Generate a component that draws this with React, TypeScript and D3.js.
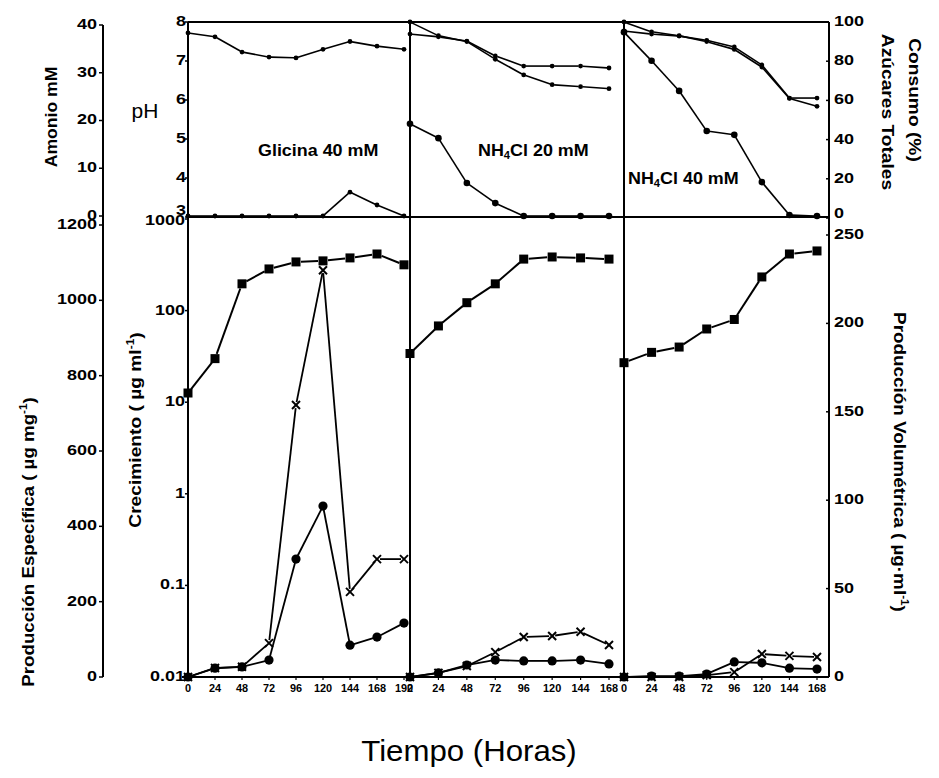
import React from "react";
import * as d3 from "d3";

// ---------- data ----------
const hoursGly = [0, 24, 48, 72, 96, 120, 144, 168, 192];
const hoursN = [0, 24, 48, 72, 96, 120, 144, 168];

// top panel: pH, ammonium (mM), total sugars (%)
const phGly = [7.72, 7.62, 7.23, 7.1, 7.08, 7.3, 7.5, 7.38, 7.3];
const ammGly = [0, 0, 0, 0, 0, 0, 5.0, 2.3, 0];
const phN20 = [7.69, 7.62, 7.51, 7.13, 6.87, 6.87, 6.87, 6.82];
const sugN20 = [100, 93, 90, 81, 73, 68, 67, 66];
const ammN20 = [19.3, 16.3, 6.9, 2.7, 0, 0, 0, 0];
const phN40 = [7.77, 7.69, 7.64, 7.53, 7.36, 6.9, 6.05, 6.05];
const sugN40 = [100, 95, 93, 90, 86, 77, 61, 57];
const ammN40 = [38.5, 32.5, 26.2, 17.8, 17, 7.1, 0.2, 0];

// bottom panel: growth (log), specific production, volumetric production
const growthGly = [12.6, 29.9, 196, 285, 340, 349, 376, 415, 316];
const growthN20 = [34, 68, 122, 196, 365, 385, 376, 365];
const growthN40 = [27, 35, 40, 63, 80, 233, 415, 448];
const specGly = [0, 24, 27, 90, 722, 1080, 226, 313, 313];
const specN20 = [0, 11, 29, 66, 106, 109, 120, 85];
const specN40 = [0, 0, 0, 5, 13, 61, 56, 53];
const volGly = [0, 5, 5.7, 9.6, 66.7, 96.7, 18, 22.6, 30.5];
const volN20 = [0, 2.3, 6.8, 9.6, 9.1, 9.1, 9.6, 7.4];
const volN40 = [0, 0.5, 0.5, 1.7, 8.5, 8, 5, 4.5];

// tick values
const amoniumTicks = [0, 10, 20, 30, 40];
const phTicks = [3, 4, 5, 6, 7, 8];
const sugarTicks = [0, 20, 40, 60, 80, 100];
const specTicks = [0, 200, 400, 600, 800, 1000, 1200];
const growthTicks = [0.01, 0.1, 1, 10, 100, 1000];
const growthTickLabels = ["0.01", "0.1", "1", "10", "100", "1000"];
const volTicks = [0, 50, 100, 150, 200, 250];

const panelLabels = ["Glicina 40 mM", "NH4Cl 20 mM", "NH4Cl 40 mM"];

// ---------- layout ----------
const F = '"Liberation Sans", Arial, Helvetica, sans-serif';
const TOP = 22, MID = 217, BOT = 677;
const XL = 103, XA = 188, XB = 410, XC = 624, XR = 829;

const x1 = d3.scaleLinear().domain([0, 192]).range([XA, 404]);
const x2 = d3.scaleLinear().domain([0, 168]).range([XB, 609]);
const x3 = d3.scaleLinear().domain([0, 168]).range([XC, 817]);

const yPh = d3.scaleLinear().domain([3, 8]).range([MID, TOP]);
const yAmm = d3.scaleLinear().domain([0, 40]).range([216, 25]);
const ySug = d3.scaleLinear().domain([0, 100]).range([MID + 1, TOP]);
const yGrowth = d3.scaleLog().domain([0.01, 1000]).range([BOT, 219]);
const ySpec = d3.scaleLinear().domain([0, 1200]).range([BOT, 225]);
const yVol = d3.scaleLinear().domain([0, 250]).range([BOT, 235]);

type Mk = "square" | "circle" | "x" | "dot" | "bigdot";

function Marker({ t, x, y }: { t: Mk; x: number; y: number }) {
  if (t === "square") return <rect x={x - 4.5} y={y - 4.5} width={9} height={9} fill="#000" />;
  if (t === "circle") return <circle cx={x} cy={y} r={4.6} fill="#000" />;
  if (t === "bigdot") return <circle cx={x} cy={y} r={3.3} fill="#000" />;
  if (t === "dot") return <circle cx={x} cy={y} r={2.4} fill="#000" />;
  return (
    <g stroke="#000" strokeWidth={2}>
      <line x1={x - 4} y1={y - 4} x2={x + 4} y2={y + 4} />
      <line x1={x - 4} y1={y + 4} x2={x + 4} y2={y - 4} />
    </g>
  );
}

function Series({
  hours, vals, xs, ys, mk, gap = 3, sw = 1.8,
}: {
  hours: number[]; vals: number[]; xs: any; ys: any; mk: Mk; gap?: number; sw?: number;
}) {
  const pts = hours.map((h, i) => [xs(h), ys(vals[i])]);
  const segs = [];
  for (let i = 0; i < pts.length - 1; i++) {
    const [ax, ay] = pts[i];
    const [bx, by] = pts[i + 1];
    const len = Math.hypot(bx - ax, by - ay);
    if (len < 2 * gap + 1) continue;
    const ux = (bx - ax) / len, uy = (by - ay) / len;
    segs.push(
      <line key={i} x1={ax + ux * gap} y1={ay + uy * gap} x2={bx - ux * gap} y2={by - uy * gap}
        stroke="#000" strokeWidth={sw} />
    );
  }
  return (
    <g>
      {segs}
      {pts.map(([x, y], i) => <Marker key={i} t={mk} x={x} y={y} />)}
    </g>
  );
}

function Label({
  x, y, rot = 0, size = 16, sx = 1, anchor = "middle", weight = "bold", children, base = "middle",
}: any) {
  return (
    <text transform={`translate(${x},${y}) rotate(${rot}) scale(${sx},1)`} fontFamily={F}
      fontSize={size} fontWeight={weight} textAnchor={anchor} dominantBaseline={base} fill="#000">
      {children}
    </text>
  );
}

function NHLabel({ x, y, text }: { x: number; y: number; text: string }) {
  const rest = text.replace("NH4", "");
  return (
    <text transform={`translate(${x},${y}) scale(1.12,1)`} fontFamily={F} fontSize={16}
      fontWeight="bold" dominantBaseline="middle" fill="#000">
      NH<tspan fontSize={10} dy={4}>4</tspan><tspan dy={-4}>{rest}</tspan>
    </text>
  );
}

export default function App() {
  const panels = [
    { hours: hoursGly, xs: x1, ph: phGly, sug: null as number[] | null, amm: ammGly, gr: growthGly, sp: specGly, vol: volGly },
    { hours: hoursN, xs: x2, ph: phN20, sug: sugN20, amm: ammN20, gr: growthN20, sp: specN20, vol: volN20 },
    { hours: hoursN, xs: x3, ph: phN40, sug: sugN40, amm: ammN40, gr: growthN40, sp: specN40, vol: volN40 },
  ];
  const tickSize = 15, tickSx = 1.2;

  return (
    <svg width={939} height={778} style={{ position: "absolute", left: 0, top: 0, background: "#fff" }}>
      <rect x={0} y={0} width={939} height={778} fill="#fff" />
      {/* frame */}
      <g stroke="#000" strokeWidth={2} fill="none">
        <line x1={XL} y1={25} x2={XL} y2={BOT} />
        <line x1={XA} y1={TOP} x2={XA} y2={BOT} />
        <line x1={XB} y1={TOP} x2={XB} y2={BOT} />
        <line x1={XC} y1={TOP} x2={XC} y2={BOT} />
        <line x1={XR} y1={TOP} x2={XR} y2={BOT} />
        <line x1={XA} y1={TOP} x2={XR} y2={TOP} />
        <line x1={XA} y1={MID} x2={XR} y2={MID} />
        <line x1={182} y1={BOT} x2={XR} y2={BOT} />
      </g>

      {/* outer left axis: Amonio and Producción Específica */}
      {amoniumTicks.map((t) => (
        <g key={"a" + t}>
          <line x1={XL} x2={XL - 4} y1={yAmm(t)} y2={yAmm(t)} stroke="#000" strokeWidth={1.5} />
          <Label x={97} y={yAmm(t)} anchor="end" size={tickSize} sx={tickSx}>{t}</Label>
        </g>
      ))}
      {specTicks.map((t) => (
        <g key={"s" + t}>
          <line x1={XL} x2={XL - 4} y1={ySpec(t)} y2={ySpec(t)} stroke="#000" strokeWidth={1.5} />
          <Label x={97} y={ySpec(t)} anchor="end" size={tickSize} sx={tickSx}>{t}</Label>
        </g>
      ))}

      {/* pH / growth axis */}
      {phTicks.map((t) => (
        <g key={"p" + t}>
          <line x1={XA} x2={XA - 3} y1={yPh(t)} y2={yPh(t)} stroke="#000" strokeWidth={1.5} />
          <Label x={186} y={yPh(t) + (t === 3 ? -6 : 0)} anchor="end" size={tickSize} sx={tickSx}>{t}</Label>
        </g>
      ))}
      {growthTicks.map((t, i) => (
        <g key={"g" + t}>
          <line x1={XA} x2={XA - 3} y1={yGrowth(t)} y2={yGrowth(t)} stroke="#000" strokeWidth={1.5} />
          <Label x={185} y={yGrowth(t) + (i === growthTicks.length - 1 ? 2 : 0)} anchor="end" size={tickSize} sx={tickSx}>
            {growthTickLabels[i]}
          </Label>
        </g>
      ))}

      {/* right axis */}
      {sugarTicks.map((t) => (
        <g key={"r" + t}>
          <line x1={XR} x2={XR - 3} y1={ySug(t)} y2={ySug(t)} stroke="#000" strokeWidth={1.5} />
          <Label x={834} y={ySug(t) + (t === 0 ? -4 : 0)} anchor="start" size={tickSize} sx={tickSx}>{t}</Label>
        </g>
      ))}
      {volTicks.map((t) => (
        <g key={"v" + t}>
          <line x1={XR} x2={XR - 3} y1={yVol(t)} y2={yVol(t)} stroke="#000" strokeWidth={1.5} />
          <Label x={834} y={yVol(t)} anchor="start" size={tickSize} sx={tickSx}>{t}</Label>
        </g>
      ))}

      {/* x ticks */}
      {panels.map((p, pi) =>
        p.hours.map((h) => (
          <g key={pi + "-" + h}>
            <line x1={p.xs(h)} x2={p.xs(h)} y1={BOT} y2={BOT + 3} stroke="#000" strokeWidth={1.2} />
            <Label x={p.xs(h)} y={689} size={11.5} sx={0.95}>{h}</Label>
          </g>
        ))
      )}

      {/* series */}
      {panels.map((p, pi) => (
        <g key={"ser" + pi}>
          <Series hours={p.hours} vals={p.ph} xs={p.xs} ys={yPh} mk="dot" gap={2} sw={1.6} />
          {p.sug && <Series hours={p.hours} vals={p.sug} xs={p.xs} ys={ySug} mk="dot" gap={2} sw={1.6} />}
          <Series hours={p.hours} vals={p.amm} xs={p.xs} ys={yAmm} mk={pi === 0 ? "dot" : "bigdot"} gap={2} sw={1.6} />
          <Series hours={p.hours} vals={p.gr} xs={p.xs} ys={yGrowth} mk="square" gap={5} sw={2} />
          <Series hours={p.hours} vals={p.sp} xs={p.xs} ys={ySpec} mk="x" gap={3} sw={1.8} />
          <Series hours={p.hours} vals={p.vol} xs={p.xs} ys={yVol} mk="circle" gap={4} sw={1.8} />
        </g>
      ))}

      {/* panel labels */}
      <Label x={258} y={152} anchor="start" size={16} sx={1.12}>{panelLabels[0]}</Label>
      <NHLabel x={478} y={152} text={panelLabels[1]} />
      <NHLabel x={628} y={180} text={panelLabels[2]} />

      {/* axis titles */}
      <Label x={53} y={117} rot={-90} size={16} sx={1.1}>Amonio mM</Label>
      <Label x={145} y={113} size={20} weight="normal" sx={1.05}>pH</Label>
      <Label x={886} y={112} rot={90} size={16} sx={1.2}>Azúcares Totales</Label>
      <Label x={913} y={100} rot={90} size={16} sx={1.2}>Consumo (%)</Label>
      <Label x={30} y={542} rot={-90} size={16} sx={1.17}>
        Producción Específica ( µg mg<tspan fontSize={10} dy={-6}>-1</tspan><tspan dy={6}>)</tspan>
      </Label>
      <Label x={137} y={430} rot={-90} size={16} sx={1.2}>
        Crecimiento ( µg ml<tspan fontSize={10} dy={-6}>-1</tspan><tspan dy={6}>)</tspan>
      </Label>
      <Label x={898} y={462} rot={90} size={16} sx={1.18}>
        Producción Volumétrica ( µg·ml<tspan fontSize={10} dy={-6}>-1</tspan><tspan dy={6}>)</tspan>
      </Label>

      <Label x={469} y={753} size={30} weight="normal" sx={1.04}>Tiempo (Horas)</Label>
    </svg>
  );
}
